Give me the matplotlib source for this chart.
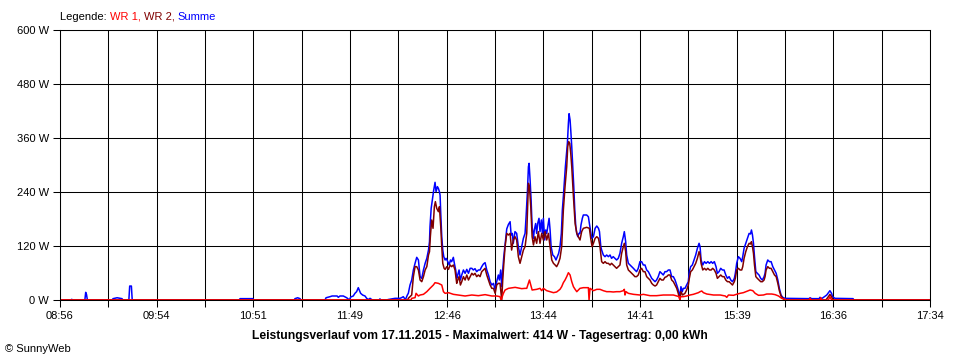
import numpy as np
import matplotlib
matplotlib.use("Agg")
import matplotlib.pyplot as plt

plt.rcParams['font.family'] = ['Liberation Sans', 'DejaVu Sans']

# time in minutes after 08:56, power in W
t_summe = [
    0, 6.5, 7.0, 7.5, 14.8, 15.3, 15.8, 16.3, 31.0, 31.6, 34.0, 36.9, 37.5,
    41.0, 41.5, 42.5, 43.0, 106.7, 107.2, 114.9, 115.4, 139.4, 139.9, 141.5, 142.9, 143.4,
    157.8, 158.4, 160.8, 162.0, 165.0, 165.7, 166.7, 168.7, 170.7, 172.3, 173.1, 174.6,
    175.6, 176.6, 177.6, 178.2, 179.0, 180.2, 181.6, 182.6, 183.6, 184.6, 185.6, 186.2,
    190.0, 190.5, 191.0, 194.8, 195.3, 199.5, 201.4, 202.4, 203.4, 204.4, 205.4, 206.0,
    206.8, 207.4, 208.4, 209.4, 210.4, 211.4, 212.4, 213.4, 214.4, 215.4, 216.4, 217.4,
    218.4, 219.4, 220.0, 220.3, 221.0, 221.7, 222.5, 223.3, 223.9, 224.7, 225.3, 225.9,
    226.3, 226.7, 227.3, 227.9, 228.5, 229.3, 229.9, 230.9, 231.7, 232.5, 233.2, 234.2,
    234.8, 235.6, 236.2, 236.8, 237.6, 238.4, 239.2, 240.2, 241.2, 242.2, 243.2, 244.2,
    245.2, 246.1, 247.1, 248.1, 249.1, 250.1, 251.1, 252.1, 253.1, 254.1, 255.1, 256.1,
    257.1, 258.1, 259.1, 260.0, 261.0, 261.6, 262.4, 263.0, 263.6, 264.2, 265.0, 266.0,
    267.0, 268.0, 268.6, 269.3, 269.9, 270.9, 271.9, 272.9, 273.9, 274.9, 275.9, 276.9,
    277.5, 278.3, 278.9, 279.3, 279.9, 280.5, 281.1, 281.9, 282.4, 283.2, 283.8, 284.4,
    285.2, 285.8, 286.6, 287.2, 287.8, 288.6, 289.2, 289.8, 290.4, 291.2, 291.8, 292.4,
    293.4, 294.4, 295.3, 296.1, 296.9, 297.7, 298.5, 299.1, 299.7, 300.3, 300.9, 301.5,
    302.1, 302.7, 303.1, 303.7, 304.1, 304.7, 305.3, 305.9, 306.5, 307.1, 307.7, 308.3,
    309.0, 309.6, 310.2, 311.0, 311.6, 312.6, 313.6, 314.6, 315.2, 316.0, 316.6, 317.6,
    318.6, 319.6, 320.6, 321.2, 322.0, 322.5, 323.5, 324.5, 325.5, 326.5, 327.5, 328.4,
    329.4, 330.4, 331.4, 332.4, 333.4, 334.4, 335.4, 336.0, 336.8, 337.4, 338.4, 339.4,
    340.4, 341.4, 342.3, 343.3, 344.3, 345.3, 346.3, 347.3, 348.3, 349.3, 350.3, 351.3,
    352.3, 353.3, 354.3, 355.2, 356.2, 357.2, 358.2, 359.2, 360.2, 361.2, 362.2, 363.2,
    364.2, 365.2, 366.2, 367.2, 368.1, 369.1, 369.7, 370.5, 371.1, 372.1, 373.1, 374.1,
    374.7, 375.5, 376.5, 377.5, 378.5, 379.5, 380.5, 381.1, 381.7, 382.7, 383.7, 384.7,
    385.7, 386.7, 387.7, 388.6, 389.6, 390.6, 391.4, 392.4, 393.4, 394.4, 395.4, 396.4,
    397.4, 398.4, 399.4, 400.4, 401.0, 401.5, 402.1, 402.9, 403.9, 404.9, 405.9, 406.5,
    407.3, 408.3, 409.3, 410.3, 411.1, 411.7, 412.3, 412.9, 413.5, 414.3, 415.2, 416.2,
    417.2, 418.2, 419.2, 419.8, 420.4, 421.4, 422.4, 423.4, 424.4, 425.4, 426.4, 427.4,
    428.3, 429.3, 430.3, 431.7, 446.0, 446.6, 447.5, 452.0, 452.5, 453.5, 456.5, 457.5,
    458.4, 459.4, 460.0, 461.4, 472.2, 472.7, 518,
]
summe = [
    0, 0, 1.5, 0, 0, 17, 12, 0, 0, 3, 5, 3, 0,
    0, 31, 31, 0, 0, 3, 3, 0, 0, 3, 5, 3, 0,
    0, 5, 7.4, 8.9, 8.9, 6, 8.9, 8.9, 5, 0, 6.7, 8.9,
    14.8, 18.5, 27.4, 22, 14.8, 11, 8.9, 3.7, 1, 3.7, 1, 0,
    0, 2.5, 0, 0, 1, 3.7, 3.7, 3.7, 5.2, 7.4, 2, 3.7,
    11, 15, 33.3, 44.4, 66.7, 81.5, 94.8, 88.9, 51.9, 48.1, 66.7, 81.5,
    92.6, 111, 129.6, 163, 203.7, 222, 244, 261.5, 240.7, 251.9, 248, 240.7,
    233, 192.6, 140.7, 111, 96.3, 88.9, 92.6, 85.2, 77.8, 88.9, 85.2, 94.8,
    81.5, 66.7, 48.1, 55.6, 66.7, 44.4, 55.6, 66.7, 59.3, 68.1, 59.3, 70.4,
    70.4, 66.7, 69.6, 63, 66.7, 66.7, 74.1, 80, 83, 66.7, 55.6, 40.7,
    33.3, 37, 22.2, 40.7, 55.6, 44.4, 66.7, 29.6, 66.7, 95, 124, 158,
    168, 174, 144.4, 148, 126, 151.9, 148, 118.5, 100, 118.5, 137, 148,
    185, 240.7, 296, 303.7, 266.7, 222, 163, 137, 155.6, 170, 148, 170,
    181.5, 151.9, 177.8, 148, 181.5, 133.3, 155.6, 148, 163, 181.5, 155.6, 118.5,
    100, 96.3, 88.9, 96.3, 103.7, 118.5, 148, 200, 229.6, 263, 296, 322,
    348, 392.6, 414, 400, 377.8, 340.7, 296, 251.9, 200, 163, 148, 140.7,
    148, 148, 166.7, 181.5, 188.9, 188.9, 188.9, 185, 170, 151.9, 137, 140.7,
    159.3, 164.4, 159.3, 152, 118.5, 111, 100, 96.3, 100, 96.3, 100, 92.6,
    96.3, 92.6, 88.9, 92.6, 103.7, 126, 140.7, 151.9, 129.6, 100, 81.5, 77.8,
    74.1, 70.4, 66.7, 63, 70.4, 85.2, 85.2, 77.8, 77.8, 66.7, 63, 55.6,
    48.1, 44.4, 40.7, 44.4, 51.9, 63, 59.3, 55.6, 63, 63, 66.7, 66.7,
    51.9, 51.9, 44.4, 33.3, 22.2, 7.4, 29.6, 18.5, 25.9, 25.9, 33.3, 40.7,
    63, 74.1, 77.8, 88.9, 100, 114.8, 126, 118.5, 88.9, 77.8, 85.2, 81.5,
    85.2, 81.5, 85.2, 81.5, 85.2, 74.1, 59.3, 63, 70.4, 66.7, 66.7, 55.6,
    48.1, 51.9, 44.4, 40.7, 44.4, 48.1, 59.3, 81.5, 96.3, 92.6, 85.2, 96.3,
    114.8, 126, 137, 148, 146.7, 155.6, 144.4, 126, 96.3, 63, 59.3, 55.6,
    48.1, 44.4, 51.9, 59.3, 77.8, 88.9, 85.2, 85.2, 74.1, 66.7, 59.3, 44.4,
    25.9, 11.1, 5.9, 3.7, 3.0, 5, 3, 3, 6, 3, 11, 16,
    20.7, 14.8, 7.4, 3.7, 3.0, 0, 0,
]

t_wr2 = [
    0, 207.0, 207.4, 209.4, 210.4, 211.4, 212.4, 213.4, 214.4, 215.4, 216.4, 217.4,
    218.4, 219.4, 220.0, 220.5, 221.3, 222.1, 222.9, 223.5, 224.3, 225.3, 225.9, 226.7,
    227.3, 227.9, 228.7, 229.3, 230.3, 231.3, 232.3, 233.2, 234.2, 235.2, 236.2, 236.8,
    237.6, 238.4, 239.2, 240.2, 241.2, 242.2, 243.2, 244.2, 245.2, 246.1, 247.1, 248.1,
    249.1, 250.1, 251.1, 252.1, 253.1, 254.1, 255.1, 256.1, 257.1, 258.1, 259.1, 260.0,
    261.0, 262.0, 263.0, 263.6, 264.2, 265.0, 266.0, 267.0, 268.0, 268.9, 269.9, 270.9,
    271.9, 272.9, 273.9, 274.9, 275.9, 276.9, 277.9, 278.9, 279.5, 280.3, 281.1, 281.9,
    282.8, 283.8, 284.8, 285.8, 286.8, 287.8, 288.8, 289.8, 290.8, 291.8, 292.8, 293.8,
    294.8, 295.7, 296.7, 297.7, 298.7, 299.7, 300.7, 301.7, 302.3, 302.9, 303.5, 304.1,
    304.7, 305.7, 306.7, 307.7, 308.6, 309.6, 310.6, 311.6, 313.6, 315.2, 316.0, 316.8,
    317.6, 318.6, 319.6, 320.6, 321.4, 322.5, 323.5, 324.5, 325.5, 326.5, 327.5, 328.4,
    329.4, 330.4, 331.4, 332.4, 333.4, 334.4, 335.4, 336.0, 336.8, 337.4, 338.4, 339.4,
    340.4, 341.4, 342.3, 343.3, 344.3, 345.3, 346.3, 347.3, 348.3, 349.3, 350.3, 351.3,
    352.3, 353.3, 354.3, 355.2, 356.2, 357.2, 358.2, 359.2, 360.2, 361.2, 362.2, 363.2,
    364.2, 365.2, 366.2, 367.2, 368.1, 369.1, 369.7, 370.7, 372.1, 373.1, 374.1, 374.7,
    375.5, 376.5, 377.5, 378.5, 379.5, 380.5, 381.1, 381.7, 382.7, 383.7, 384.7, 385.7,
    386.7, 387.7, 388.6, 389.6, 390.6, 391.4, 392.4, 393.4, 394.4, 395.4, 396.4, 397.4,
    398.4, 399.4, 400.4, 401.5, 402.1, 402.9, 403.9, 404.9, 405.9, 406.5, 407.3, 408.3,
    409.3, 410.3, 411.1, 411.7, 412.3, 412.9, 413.5, 414.3, 415.2, 416.2, 417.2, 418.2,
    419.2, 419.8, 420.4, 421.4, 422.4, 423.4, 424.4, 425.4, 426.4, 427.4, 428.3, 429.3,
    430.3, 431.5, 456.0, 457.5, 458.4, 459.4, 460.2, 518,
]
wr2 = [
    0, 0, 3.7, 11.1, 51.9, 74.1, 74.1, 66.7, 44.4, 40.7, 51.9, 66.7,
    74.1, 100, 107.4, 140.7, 177.8, 159.3, 207.4, 218.5, 203.7, 196.3, 207.4, 163,
    118.5, 81.5, 70.4, 68.1, 74.1, 68.1, 77.8, 74.1, 77.8, 66.7, 37, 44.4,
    51.9, 33.3, 40.7, 51.9, 44.4, 55.6, 44.4, 51.9, 59.3, 55.6, 59.3, 51.9,
    55.6, 51.9, 63, 66.7, 70.4, 55.6, 44.4, 33.3, 25.9, 25.9, 14.8, 33.3,
    37, 37, 0, 44.4, 77.8, 118.5, 148, 144.4, 148, 111, 133.3, 140.7,
    133.3, 96.3, 81.5, 96.3, 111, 118.5, 148, 259.3, 251.9, 207.4, 140.7, 122.2,
    140.7, 126, 151.9, 126, 148, 133.3, 151.9, 133.3, 148, 118.5, 88.9, 81.5,
    77.8, 74.1, 81.5, 92.6, 118.5, 200, 251.9, 296, 340.7, 351.8, 348, 326,
    296, 229.6, 170, 148, 140.7, 133.3, 151.9, 159.3, 161.5, 159.3, 137, 118.5,
    126, 137, 140.7, 137, 122, 85.2, 81.5, 85.2, 81.5, 81.5, 77.8, 81.5,
    77.8, 74.1, 70.4, 74.1, 77.8, 103.7, 118.5, 126, 107.4, 77.8, 66.7, 63,
    59.3, 55.6, 51.9, 51.9, 55.6, 66.7, 70.4, 63, 63, 51.9, 48.1, 44.4,
    37, 33.3, 31.1, 33.3, 40.7, 48.1, 44.4, 44.4, 50.4, 51.9, 55.6, 55.6,
    44.4, 40.7, 33.3, 25.9, 14.8, 0, 18.5, 11.1, 14.8, 22.2, 33.3, 48.1,
    63, 66.7, 74.1, 81.5, 92.6, 107.4, 100, 81.5, 66.7, 70.4, 66.7, 70.4,
    66.7, 66.7, 70.4, 66.7, 59.3, 48.1, 51.9, 55.6, 51.9, 51.9, 44.4, 40.7,
    40.7, 37, 33.3, 40.7, 48.1, 66.7, 70.4, 66.7, 66.7, 74.1, 92.6, 107.4,
    118.5, 126, 124.4, 129.6, 118.5, 103.7, 77.8, 51.9, 48.1, 44.4, 40.7, 40.7,
    44.4, 51.9, 66.7, 74.1, 70.4, 70.4, 63, 55.6, 51.9, 37, 20.7, 8.9,
    3.7, 0, 0, 7.4, 12.6, 7.4, 0, 0,
]

t_wr1 = [
    0, 209.0, 209.4, 211.4, 212.0, 213.4, 214.4, 216.4, 218.4, 220.3, 222.3, 223.3,
    225.3, 227.3, 228.3, 229.3, 231.3, 234.2, 237.2, 241.2, 245.2, 249.1, 253.1, 257.1,
    260.0, 262.0, 262.6, 264.0, 265.0, 267.0, 271.0, 274.9, 276.9, 277.9, 278.9, 279.5,
    280.3, 281.1, 283.8, 285.8, 286.8, 287.8, 289.8, 291.8, 293.8, 295.7, 297.7, 298.7,
    299.7, 300.7, 301.7, 302.7, 303.7, 304.7, 305.7, 306.7, 307.7, 309.6, 311.6, 314.6,
    315.0, 315.6, 317.6, 319.6, 321.5, 323.5, 325.5, 327.5, 329.4, 331.4, 333.4, 335.4,
    336.0, 336.4, 337.0, 338.4, 341.4, 345.3, 347.3, 351.3, 355.2, 359.2, 363.2, 365.2,
    368.7, 369.1, 369.5, 371.1, 373.1, 375.1, 377.1, 380.1, 381.1, 382.1, 383.1, 385.1,
    389.1, 393.1, 396.1, 397.0, 398.0, 401.0, 403.3, 404.9, 406.9, 408.9, 410.9, 412.5,
    413.9, 415.9, 418.8, 420.8, 423.8, 425.8, 427.8, 429.7, 431.7, 432.5, 446.0, 446.6,
    447.2, 452.5, 453.0, 453.6, 457.5, 458.4, 459.4, 518,
]
wr1 = [
    0, 0, 3.7, 5.2, 14.8, 8.9, 11.1, 12.6, 18.5, 25.9, 33.3, 38.5,
    37, 33.3, 18.5, 14.8, 16.3, 12.6, 11.1, 8.9, 11.1, 9.6, 11.9, 8.9,
    8.9, 7.4, 0, 14.8, 22.2, 25.9, 28.1, 25.2, 25.9, 25.9, 37, 44.4,
    33.3, 22.2, 23.7, 25.9, 20.7, 25.9, 20.7, 18.5, 16.3, 17.8, 23.7, 29.6,
    38.5, 44.4, 51.9, 60.7, 55.6, 40.7, 29.6, 23.7, 18.5, 25.9, 27.4, 27.4,
    0, 25.9, 20.7, 23.7, 23.7, 20.7, 18.5, 18.5, 17.8, 18.5, 18.5, 20.7,
    23.7, 11.1, 18.5, 14.8, 12.6, 11.1, 12.6, 9.6, 9.6, 11.1, 11.1, 11.1,
    7.4, 0, 7.4, 7.4, 8.9, 11.1, 12.6, 16.3, 18.5, 20, 16.3, 13.3,
    11.1, 11.1, 8.9, 5.9, 11.1, 10.4, 13.3, 14.8, 16.3, 19.3, 22.2, 20.7,
    14.8, 10.4, 11.1, 13.3, 13.3, 11.9, 8.9, 3.7, 1.5, 0, 0, 3.7,
    0, 0, 5, 0, 0, 7.4, 0, 0,
]

span_min = 518
time_labels = ["08:56", "09:54", "10:51", "11:49", "12:46",
               "13:44", "14:41", "15:39", "16:36", "17:34"]
y_values = [0, 120, 240, 360, 480, 600]

fig = plt.figure(figsize=(9.6, 3.6), dpi=100)
ax = fig.add_axes([60 / 960, 60 / 360, 870 / 960, 270 / 360])

ax.plot(t_summe, summe, color='#0000ff', lw=1.1, zorder=2)
ax.plot(t_wr2, wr2, color='#800000', lw=1.1, zorder=2.1)
ax.plot(t_wr1, wr1, color='#ff0000', lw=1.1, zorder=2.2)

ax.set_xlim(0, span_min)
ax.set_ylim(0, 600)
xt = np.linspace(0, span_min, 19)
ax.set_xticks(xt)
labels = []
for i in range(len(xt)):
    labels.append(time_labels[i // 2] if i % 2 == 0 else "")
ax.set_xticklabels(labels)
ax.set_yticks(y_values)
ax.set_yticklabels([f"{v} W" for v in y_values])
ax.tick_params(axis='both', length=5, width=0.75, color='black',
               labelsize=8, direction='out')
ax.tick_params(axis='x', pad=3)
ax.tick_params(axis='y', pad=3)
ax.set_axisbelow(True)
ax.grid(True, color='black', lw=0.75)
for s in ax.spines.values():
    s.set_linewidth(0.75)
    s.set_color('black')
    s.set_zorder(3)

# legend line at top, coloured pieces
renderer = fig.canvas.get_renderer()
x = 60 / 960
y = 1 - 16.5 / 360
for txt, col in [("Legende: ", "black"), ("WR 1, ", "#ff0000"),
                 ("WR 2, ", "#800000"), ("Summe", "#0000ff")]:
    t = fig.text(x, y, txt, color=col, fontsize=8, va='center', ha='left')
    bb = t.get_window_extent(renderer=renderer)
    x += bb.width / fig.bbox.width

fig.text(0.5, 1 - 336.5 / 360,
         "Leistungsverlauf vom 17.11.2015 - Maximalwert: 414 W - Tagesertrag: 0,00 kWh",
         ha='center', va='center', fontsize=8.75, fontweight='bold')
fig.text(5 / 960, 1 - 349 / 360, "© SunnyWeb", ha='left', va='center', fontsize=8)

fig.savefig("out.png", dpi=100)
